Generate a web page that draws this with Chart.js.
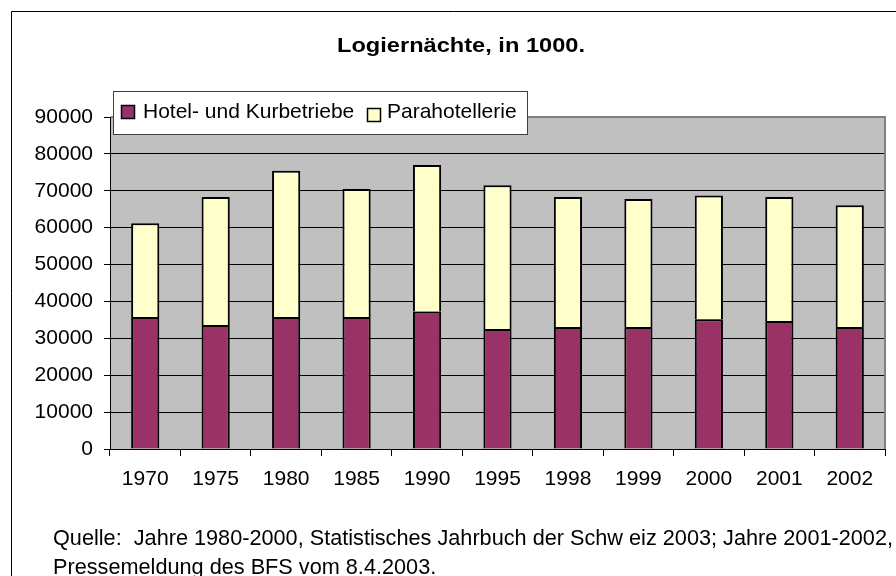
<!DOCTYPE html>
<html><head><meta charset="utf-8">
<script src="https://cdn.jsdelivr.net/npm/chart.js@4"></script>
<style>html,body{margin:0;padding:0;background:#fff}#wrap{width:896px;height:576px}</style>
</head><body><div id="wrap"><canvas id="c" width="896" height="576"></canvas></div>
<script>
const years = ['1970','1975','1980','1985','1990','1995','1998','1999','2000','2001','2002'];
const hotel = [35800, 33600, 35800, 35800, 37300, 32500, 33100, 33100, 35200, 34700, 33100];
const para  = [25400, 34700, 39600, 34700, 39700, 39000, 35200, 34700, 33500, 33600, 33000];
const seriesNames = ['Hotel- und Kurbetriebe', 'Parahotellerie'];
const titleText = 'Logiernächte, in 1000.';
const sourceLines = [
  'Quelle:  Jahre 1980-2000, Statistisches Jahrbuch der Schw eiz 2003; Jahre 2001-2002,',
  'Pressemeldung des BFS vom 8.4.2003.'
];
const yMin = 0, yMax = 90000, yStep = 10000;

const FONT = '"Liberation Sans", Arial, sans-serif';

const decor = {
  id: 'decor',
  beforeDraw(chart) {
    const ctx = chart.ctx, a = chart.chartArea;
    ctx.save();
    ctx.fillStyle = '#fff';
    ctx.fillRect(0, 0, chart.width, chart.height);
    ctx.strokeStyle = '#000';
    ctx.lineWidth = 1;
    ctx.beginPath();
    ctx.moveTo(11.5, chart.height);
    ctx.lineTo(11.5, 11.5);
    ctx.lineTo(chart.width, 11.5);
    ctx.stroke();
    ctx.fillStyle = '#C0C0C0';
    ctx.fillRect(a.left, a.top, a.right - a.left, a.bottom - a.top);
    ctx.restore();
  },
  beforeDatasetsDraw(chart) {
    const ctx = chart.ctx, a = chart.chartArea;
    ctx.save();
    ctx.strokeStyle = '#808080';
    ctx.lineWidth = 2;
    ctx.beginPath();
    ctx.moveTo(a.left + 1, a.top);
    ctx.lineTo(a.right, a.top);
    ctx.lineTo(a.right, a.bottom);
    ctx.stroke();
    ctx.restore();
  },
  afterDraw(chart) {
    const ctx = chart.ctx;
    ctx.save();
    // title
    ctx.font = 'bold 21px ' + FONT;
    ctx.fillStyle = '#000';
    ctx.textBaseline = 'alphabetic';
    let w = ctx.measureText(titleText).width;
    const tw = 248, tr = tw / w;
    ctx.save();
    ctx.translate(461 - tw / 2, 52);
    ctx.scale(tr, 1);
    ctx.fillText(titleText, 0, 0);
    ctx.restore();

    // legend
    ctx.fillStyle = '#fff';
    ctx.fillRect(113, 91, 415, 43);
    ctx.strokeStyle = '#404040';
    ctx.lineWidth = 1;
    ctx.strokeRect(113.5, 91.5, 414, 43);
    ctx.font = '21px ' + FONT;
    const ds = chart.data.datasets;
    const items = [{sx: 121, sy: 105, tx: 143}, {sx: 367, sy: 108, tx: 387}];
    ds.forEach((d, i) => {
      const it = items[i];
      ctx.fillStyle = d.backgroundColor;
      ctx.fillRect(it.sx, it.sy, 13, 13);
      ctx.strokeStyle = '#000';
      ctx.lineWidth = 1.5;
      ctx.strokeRect(it.sx + 0.5, it.sy + 0.5, 13, 13);
      ctx.fillStyle = '#000';
      ctx.fillText(d.label, it.tx, 118);
    });

    // source note
    ctx.font = '22px ' + FONT;
    const lw = ctx.measureText(sourceLines[0]).width;
    const r = 840 / lw;
    [545, 574].forEach((y, i) => {
      ctx.save();
      ctx.translate(53, y);
      ctx.scale(r, 1);
      ctx.fillText(sourceLines[i], 0, 0);
      ctx.restore();
    });
    ctx.restore();
  }
};

new Chart(document.getElementById('c'), {
  type: 'bar',
  data: {
    labels: years,
    datasets: [
      { label: seriesNames[0], data: hotel, backgroundColor: '#993366', borderColor: '#000', borderWidth: 2 },
      { label: seriesNames[1], data: para, backgroundColor: '#FFFFCC', borderColor: '#000', borderWidth: 2 }
    ]
  },
  options: {
    responsive: false,
    animation: false,
    devicePixelRatio: 1,
    barPercentage: 0.4,
    categoryPercentage: 1.0,
    layout: { padding: { left: 0, top: 117, right: 11, bottom: 87 } },
    plugins: { legend: { display: false }, title: { display: false }, tooltip: { enabled: false } },
    scales: {
      x: {
        stacked: true,
        afterFit(s) { s.height = 40; },
        grid: { offset: true, drawOnChartArea: false, color: '#000', tickLength: 7, lineWidth: 1 },
        border: { color: '#000', width: 1 },
        ticks: { color: '#000', font: { family: FONT, size: 21 }, padding: 11, maxRotation: 0, autoSkip: false }
      },
      y: {
        stacked: true,
        min: yMin, max: yMax,
        afterFit(s) { s.width = 110; },
        grid: { color: '#000', tickLength: 6, lineWidth: 1 },
        border: { color: '#000', width: 1 },
        ticks: { stepSize: yStep, color: '#000', font: { family: FONT, size: 21 }, padding: 11,
                 callback: (v) => String(v) }
      }
    }
  },
  plugins: [decor]
});
</script></body></html>
